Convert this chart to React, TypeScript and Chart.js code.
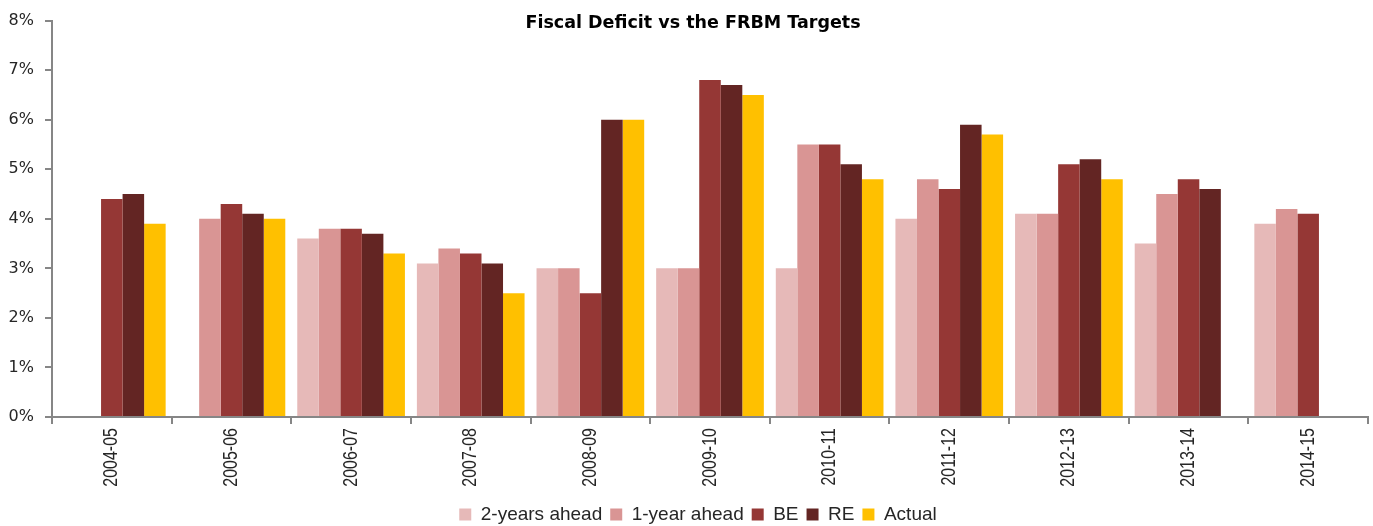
import React, { useEffect, useRef } from "react";
import { Chart, registerables } from "chart.js";

Chart.register(...registerables);

const categories = ["2004-05", "2005-06", "2006-07", "2007-08", "2008-09", "2009-10", "2010-11", "2011-12", "2012-13", "2013-14", "2014-15"];
const twoYearsAhead = [null, null, 3.6, 3.1, 3.0, 3.0, 3.0, 4.0, 4.1, 3.5, 3.9];
const oneYearAhead = [null, 4.0, 3.8, 3.4, 3.0, 3.0, 5.5, 4.8, 4.1, 4.5, 4.2];
const be = [4.4, 4.3, 3.8, 3.3, 2.5, 6.8, 5.5, 4.6, 5.1, 4.8, 4.1];
const re = [4.5, 4.1, 3.7, 3.1, 6.0, 6.7, 5.1, 5.9, 5.2, 4.6, null];
const actual = [3.9, 4.0, 3.3, 2.5, 6.0, 6.5, 4.8, 5.7, 4.8, null, null];
const yTicks = [0, 1, 2, 3, 4, 5, 6, 7, 8];
const title = "Fiscal Deficit vs the FRBM Targets";

const AXIS = "#868686";
const TEXT = "#262626";

export default function App() {
  const ref = useRef<HTMLCanvasElement | null>(null);
  useEffect(() => {
    if (!ref.current) return;
    const overlayPlugin = {
      id: "overlayText",
      afterLayout(chart: any) {
        const lg = chart.legend;
        if (lg) {
          lg.left += 14;
          lg.right += 14;
        }
      },
      afterDraw(chart: any) {
        const ctx = chart.ctx;
        ctx.save();
        ctx.font = "bold 17.5px 'DejaVu Sans'";
        ctx.fillStyle = "#000";
        ctx.textAlign = "center";
        ctx.textBaseline = "middle";
        ctx.fillText(title, 693, 23);
        ctx.restore();

        const xs = chart.scales.x;
        const top = xs.top + 11;
        ctx.save();
        ctx.font = "20px 'Liberation Sans', sans-serif";
        ctx.fillStyle = TEXT;
        ctx.textAlign = "right";
        ctx.textBaseline = "middle";
        categories.forEach((c, i) => {
          const x = xs.getPixelForValue(i);
          ctx.save();
          ctx.translate(x, top);
          ctx.rotate(-Math.PI / 2);
          ctx.scale(0.8, 1);
          ctx.fillText(c, 0, 0);
          ctx.restore();
        });
        ctx.restore();
      },
    };
    const mk = (label: string, data: any[], color: string) => ({
      label,
      data,
      backgroundColor: color,
      borderWidth: 0,
      categoryPercentage: 0.9,
      barPercentage: 1.0,
    });
    const chart = new Chart(ref.current, {
      type: "bar",
      data: {
        labels: categories,
        datasets: [
          mk("2-years ahead", twoYearsAhead, "#E6B9B8"),
          mk("1-year ahead", oneYearAhead, "#D99594"),
          mk("BE", be, "#953735"),
          mk("RE", re, "#632523"),
          mk("Actual", actual, "#FFC000"),
        ],
      },
      options: {
        responsive: false,
        animation: false,
        layout: { padding: { top: 17, right: 5, left: 0, bottom: -8 } },
        plugins: {
          title: { display: false },
          tooltip: { enabled: false },
          legend: {
            position: "bottom",
            labels: {
              boxWidth: 12,
              boxHeight: 12,
              padding: 8,
              color: TEXT,
              font: { family: "'Liberation Sans', sans-serif", size: 19 },
            },
          },
        },
        scales: {
          x: {
            offset: true,
            grid: {
              display: true,
              offset: true,
              drawOnChartArea: false,
              drawTicks: true,
              tickLength: 7,
              color: AXIS,
              lineWidth: 2,
            },
            border: { display: true, color: AXIS, width: 2 },
            ticks: { display: false },
            afterFit(scale: any) {
              scale.height = 80;
            },
          },
          y: {
            min: 0,
            max: 8,
            afterBuildTicks(scale: any) {
              scale.ticks = yTicks.map((v) => ({ value: v }));
            },
            grid: {
              display: true,
              drawOnChartArea: false,
              drawTicks: true,
              tickLength: 7,
              color: AXIS,
              lineWidth: 2,
            },
            border: { display: true, color: AXIS, width: 2 },
            ticks: {
              padding: 11,
              color: TEXT,
              font: { family: "'DejaVu Sans'", size: 16 },
              callback: (v: any) => v + "%",
            },
            afterFit(scale: any) {
              scale.width = 52;
            },
          },
        },
      },
      plugins: [overlayPlugin],
    } as any);
    return () => chart.destroy();
  }, []);
  return (
    <div style={{ position: "fixed", left: 0, top: 0, width: 1373, height: 526, background: "#fff" }}>
      <canvas ref={ref} width={1373} height={526} style={{ display: "block" }} />
    </div>
  );
}
